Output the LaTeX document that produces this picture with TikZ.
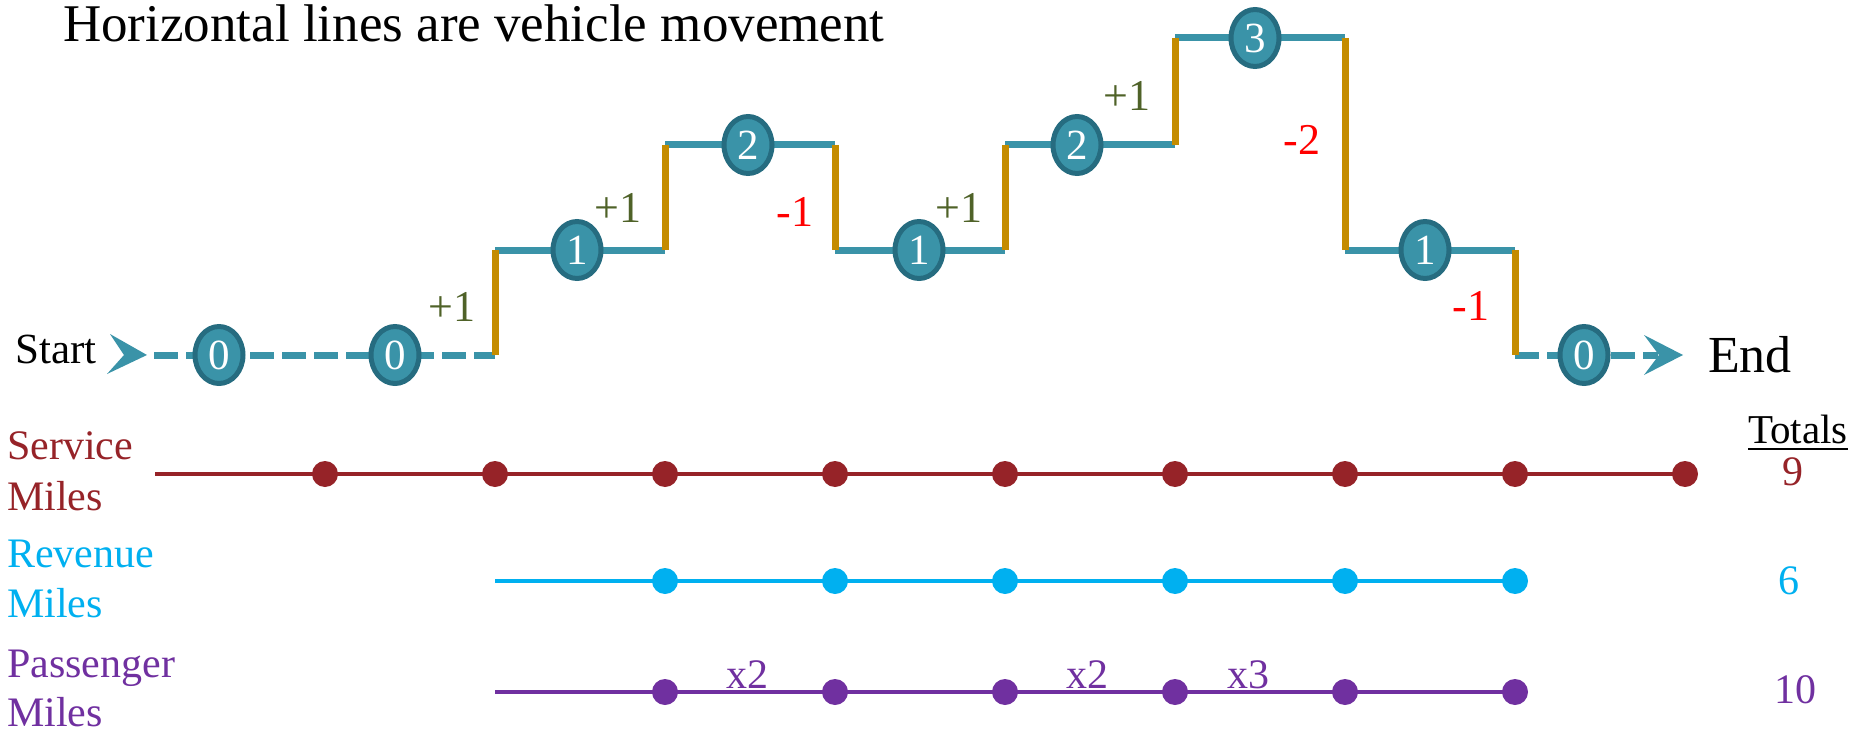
\documentclass[tikz,border=0pt]{standalone}
\usepackage{fontspec}
\setmainfont{Liberation Serif}
\usetikzlibrary{shapes.geometric}
\definecolor{teal1}{RGB}{58,147,168}
\definecolor{tealdk}{RGB}{38,108,128}
\definecolor{gold1}{RGB}{196,140,0}
\definecolor{plusg}{RGB}{79,98,40}
\definecolor{servc}{RGB}{150,35,40}
\definecolor{revc}{RGB}{0,176,240}
\definecolor{pasc}{RGB}{112,48,160}
\newcommand\fsz[1]{\fontsize{#1pt}{#1pt}\selectfont}
\begin{document}
\begin{tikzpicture}[x=1pt,y=-1pt,
  count/.style={ellipse,draw=tealdk,line width=5pt,fill=teal1,minimum width=48pt,minimum height=57pt,inner sep=0pt,text=white,font=\fsz{43}},
  move/.style={teal1,line width=7pt},
  dmove/.style={move,dash pattern=on 24pt off 8pt},
  change/.style={gold1,line width=7pt},
  plus/.style={text=plusg,font=\fsz{44},inner sep=0pt},
  minus/.style={text=red,font=\fsz{44},inner sep=0pt},
  txt/.style={inner sep=0pt,anchor=base west},
  dot/.style={circle,fill=#1,minimum size=26pt,inner sep=0pt},
  mline/.style={#1,line width=4pt}
]
\useasboundingbox (0,0) rectangle (1866,733);

% title
\node[txt,font=\fsz{53}] (title) at (63,42) {Horizontal lines are vehicle movement};

% staircase corners
\coordinate (a0) at (154,355);
\coordinate (a1) at (495,355);
\coordinate (a2) at (495,250);
\coordinate (a3) at (665,250);
\coordinate (a4) at (665,145);
\coordinate (a5) at (835,145);
\coordinate (a6) at (835,250);
\coordinate (a7) at (1005,250);
\coordinate (a8) at (1005,145);
\coordinate (a9) at (1175,145);
\coordinate (a10) at (1175,38);
\coordinate (a11) at (1345,38);
\coordinate (a12) at (1345,250);
\coordinate (a13) at (1515,250);
\coordinate (a14) at (1515,355);
\coordinate (a15) at (1658,355);

% horizontal movement
\draw[dmove] (a0) -- (a1);
\draw[move] (a2) -- (a3);
\draw[move] (a4) -- (a5);
\draw[move] (a6) -- (a7);
\draw[move] (a8) -- (a9);
\draw[move] (a10) -- (a11);
\draw[move] (a12) -- (a13);
\draw[dmove] (a14) -- (a15);

% changes
\draw[change] (a1) -- (a2);
\draw[change] (a3) -- (a4);
\draw[change] (a5) -- (a6);
\draw[change] (a7) -- (a8);
\draw[change] (a9) -- (a10);
\draw[change] (a11) -- (a12);
\draw[change] (a13) -- (a14);

% arrowheads
\fill[teal1] (147,355) -- (110,334) -- (124,355) -- (107,374) -- cycle;
\fill[teal1] (1683,355) -- (1644,335) -- (1659,355) -- (1644,375) -- cycle;

% counts
\node[count] (n1) at (219,355) {0};
\node[count] (n2) at (395,355) {0};
\node[count] (n3) at (577,250) {1};
\node[count] (n4) at (748,145) {2};
\node[count] (n5) at (919,250) {1};
\node[count] (n6) at (1077,145) {2};
\node[count] (n7) at (1255,38) {3};
\node[count] (n8) at (1425,250) {1};
\node[count] (n9) at (1584,355) {0};

% change labels
\node[plus] (p1) at (452,307) {+1};
\node[plus] (p2) at (618,208) {+1};
\node[minus] (m1) at (795,212) {-1};
\node[plus] (p3) at (959,208) {+1};
\node[plus] (p4) at (1127,96) {+1};
\node[minus] (m2) at (1302,140) {-2};
\node[minus] (m3) at (1471,306) {-1};

% start / end
\node[txt,font=\fsz{43}] (start) at (15,363) {Start};
\node[txt,font=\fsz{52}] (end) at (1708,372) {End};

% row labels
\node[txt,font=\fsz{42},text=servc] (sl1) at (7,459) {Service};
\node[txt,font=\fsz{42},text=servc] (sl2) at (7,510) {Miles};
\node[txt,font=\fsz{42},text=revc] (rl1) at (7,567) {Revenue};
\node[txt,font=\fsz{42},text=revc] (rl2) at (7,617) {Miles};
\node[txt,font=\fsz{42},text=pasc] (pl1) at (7,677) {Passenger};
\node[txt,font=\fsz{42},text=pasc] (pl2) at (7,726) {Miles};

% service miles
\coordinate (s0) at (155,474);
\coordinate (s9c) at (1685,474);
\draw[mline=servc] (s0) -- (s9c);
\foreach \k/\x in {1/325,2/495,3/665,4/835,5/1005,6/1175,7/1345,8/1515,9/1685}
  \node[dot=servc] (s\k) at (\x,474) {};

% revenue miles
\coordinate (r2) at (495,581);
\coordinate (r8c) at (1515,581);
\draw[mline=revc] (r2) -- (r8c);
\foreach \k/\x in {3/665,4/835,5/1005,6/1175,7/1345,8/1515}
  \node[dot=revc] (r\k) at (\x,581) {};

% passenger miles
\coordinate (q2) at (495,692);
\coordinate (q8c) at (1515,692);
\draw[mline=pasc] (q2) -- (q8c);
\foreach \k/\x in {3/665,4/835,5/1005,6/1175,7/1345,8/1515}
  \node[dot=pasc] (q\k) at (\x,692) {};
\node[inner sep=0pt,anchor=base,font=\fsz{42},text=pasc] (x1) at (747,688) {x2};
\node[inner sep=0pt,anchor=base,font=\fsz{42},text=pasc] (x2) at (1087,688) {x2};
\node[inner sep=0pt,anchor=base,font=\fsz{42},text=pasc] (x3) at (1248,688) {x3};

% totals
\node[txt,font=\fsz{41}] (tot) at (1748,443) {Totals};
\draw[line width=2.5pt] ([yshift=-6pt]tot.base west) -- ([yshift=-6pt]tot.base east);
\node[inner sep=0pt,font=\fsz{42},text=servc] (t1) at (1793,472) {9};
\node[inner sep=0pt,font=\fsz{42},text=revc] (t2) at (1789,581) {6};
\node[inner sep=0pt,font=\fsz{42},text=pasc] (t3) at (1795,690) {10};
\end{tikzpicture}
\end{document}
